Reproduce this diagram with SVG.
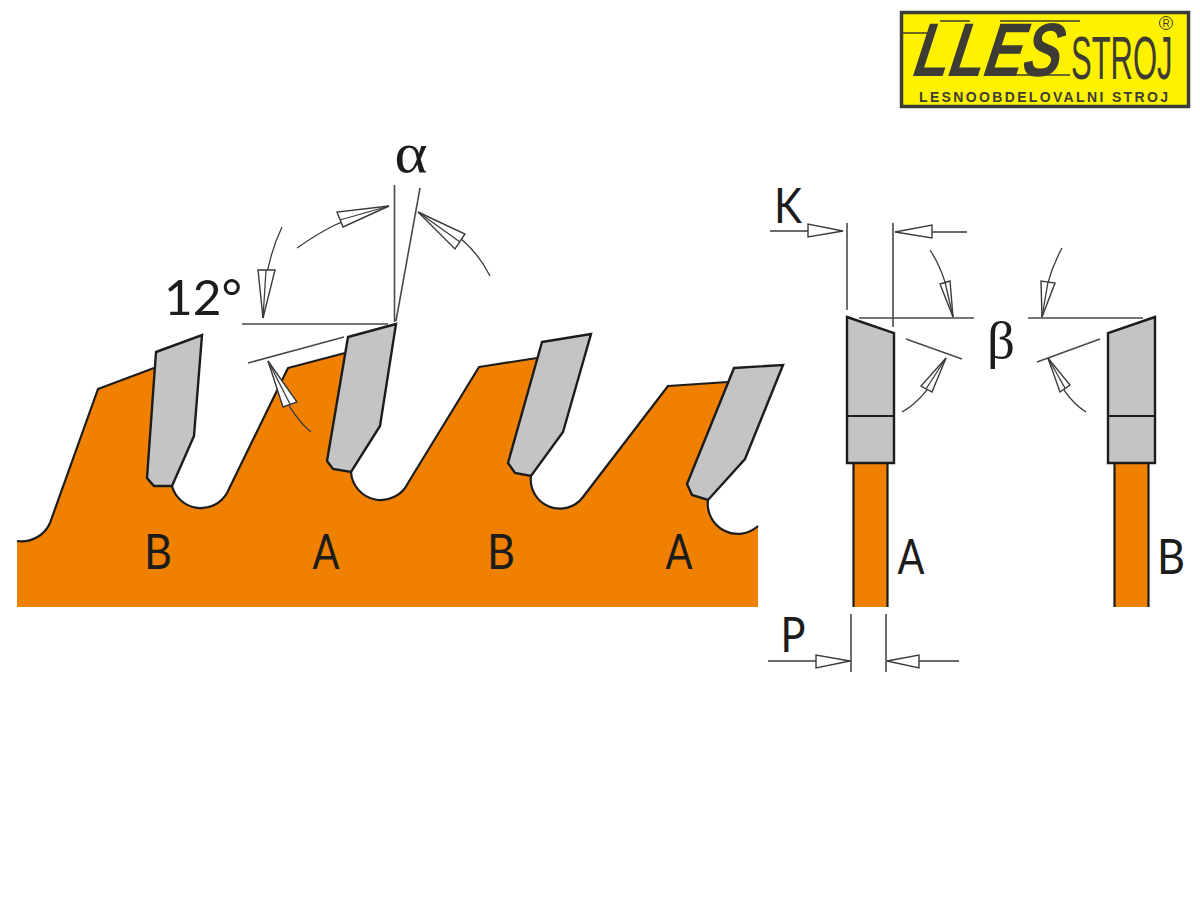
<svg xmlns="http://www.w3.org/2000/svg" width="1200" height="900" viewBox="0 0 1200 900">
<style>
.orange{fill:#f08000}
.edge{fill:none;stroke:#1c1c1c;stroke-width:2.2;stroke-linejoin:round}
.tip{fill:#c4c4c4;stroke:#1c1c1c;stroke-width:2.4;stroke-linejoin:miter}
.dim{fill:none;stroke:#4a4a4a;stroke-width:1.6}
.arrow{fill:#fff;stroke:#3a3a3a;stroke-width:1.4;stroke-linejoin:miter}
.core{fill:none;stroke:#3a3a3a;stroke-width:1.3}
.lab{font-family:"Lato","Liberation Sans",sans-serif;fill:#1c1c1c;font-size:49px;text-anchor:middle}
.greek{font-family:"Liberation Serif","DejaVu Serif",serif;fill:#1c1c1c;text-anchor:middle}
</style>
<g id="logo">
<rect x="901.5" y="12.5" width="287" height="94" fill="#fff200" stroke="#3c3c38" stroke-width="3.5"/>
<text transform="translate(912,76) skewX(-10) scale(.76,1)" font-family="Liberation Sans" font-weight="700" font-style="italic" font-size="76" fill="#3c3c34">LLES</text>
<path d="M903,33H934M940,21H970M1000,21H1080M992,75H1070" fill="none" stroke="#3c3c34" stroke-width="1.5"/>
<text transform="translate(1071,79) scale(.5,1)" font-family="Liberation Sans" font-size="62" fill="#3c3c34">STROJ</text>
<circle cx="1166" cy="23" r="6.5" fill="none" stroke="#3c3c34" stroke-width="1"/>
<text x="1166" y="27" font-family="Liberation Sans" font-size="10" text-anchor="middle" fill="#3c3c34">R</text>
<text x="919" y="102" font-family="Liberation Sans" font-weight="700" font-size="14" textLength="249" fill="#3c3c34">LESNOOBDELOVALNI STROJ</text>
</g>
<g id="blade">
<path class="orange" d="M17,541A31,31 0 0 0 50,523L98,389L154,368L172,486A30,30 0 0 0 227,493L288,368L345,353L351,472A30,30 0 0 0 408,483L479,367L537,358L531,476A29,29 0 0 0 583,497L668,386L728,382L708,500A30,30 0 0 0 758,526V607H17Z"/>
<path class="edge" d="M17,541A31,31 0 0 0 50,523L98,389L154,368M172,486A30,30 0 0 0 227,493L288,368L345,353M351,472A30,30 0 0 0 408,483L479,367L537,358M531,476A29,29 0 0 0 583,497L668,386L728,382M708,500A30,30 0 0 0 758,526"/>
</g>
<g id="tooth-b1"><polygon class="tip" points="156,352 202,335 194,436 172,486 154,486 147,478"/><text class="lab" x="158" y="569" textLength="28" lengthAdjust="spacingAndGlyphs">B</text></g>
<g id="tooth-a1"><polygon class="tip" points="348,337 396,324 380,426 351,472 333,469 327,461"/><text class="lab" x="326" y="569" textLength="27" lengthAdjust="spacingAndGlyphs">A</text></g>
<g id="tooth-b2"><polygon class="tip" points="542,342 591,334 563,432 531,476 515,473 508,463"/><text class="lab" x="501" y="569" textLength="28" lengthAdjust="spacingAndGlyphs">B</text></g>
<g id="tooth-a2"><polygon class="tip" points="734,368 783,365 745,459 708,500 692,495 687,484"/><text class="lab" x="679" y="569" textLength="27" lengthAdjust="spacingAndGlyphs">A</text></g>
<g id="section-a">
<rect x="853.5" y="463" width="34" height="144" class="orange"/>
<path class="edge" d="M853.5,463V607M887.5,463V607"/>
<polygon class="tip" points="847,317 894,333 894,463 847,463"/>
<path class="edge" d="M847,416H894"/>
<text class="lab" x="911" y="574" textLength="27" lengthAdjust="spacingAndGlyphs">A</text>
</g>
<g id="section-b">
<rect x="1114.5" y="463" width="34" height="144" class="orange"/>
<path class="edge" d="M1114.5,463V607M1148.5,463V607"/>
<polygon class="tip" points="1155,317 1108,333 1108,463 1155,463"/>
<path class="edge" d="M1108,416H1155"/>
<text class="lab" x="1171" y="574" textLength="28" lengthAdjust="spacingAndGlyphs">B</text>
</g>
<g id="connectors">
<path class="dim" d="M394.5,185V322M420,188L396,321M242,324H388M248,363L344,337"/>
<path class="core" d="M297,248C320,232 342,218 389,206M282,227C271,250 263,280 263,318M490,276C476,248 455,230 418,212M311,432C296,420 282,398 268,361"/>
<polygon class="arrow" points="389,206 337,212 343,227"/><path class="core" d="M340,220L389,206"/>
<polygon class="arrow" points="263,318 258,270 275,270"/><path class="core" d="M266,270L263,318"/>
<polygon class="arrow" points="418,212 465,234 455,249"/><path class="core" d="M460,242L418,212"/>
<polygon class="arrow" points="268,361 297,402 283,407"/><path class="core" d="M290,404L268,361"/>
<path class="dim" d="M847,223V310M893,223V327M859,318H974M1028,318H1143M906,339L962,359M1100,339L1037,362M851,614V672M886,614V672"/>
<path class="core" d="M770,231H843M895,232H967M768,661H850M887,661H959"/>
<polygon class="arrow" points="843,231 808,224 808,237"/>
<polygon class="arrow" points="895,232 932,225 932,238"/>
<polygon class="arrow" points="850,661 816,655 816,668"/>
<polygon class="arrow" points="887,661 919,655 919,668"/>
<path class="core" d="M930,250C942,268 949,290 953,317M1062,248C1050,270 1044,290 1042,317M902,412C920,402 935,382 946,358M1086,412C1070,402 1058,385 1048,358"/>
<polygon class="arrow" points="953,317 940,284 950,281"/><path class="core" d="M945,282L953,317"/>
<polygon class="arrow" points="1042,317 1041,281 1055,283"/><path class="core" d="M1048,282L1042,317"/>
<polygon class="arrow" points="946,358 921,386 932,392"/><path class="core" d="M926,389L946,358"/>
<polygon class="arrow" points="1048,358 1070,385 1060,392"/><path class="core" d="M1065,388L1048,358"/>
</g>
<g id="labels">
<text class="lab" x="203" y="315" textLength="78" lengthAdjust="spacingAndGlyphs">12°</text>
<text class="greek" x="411" y="172" font-size="56" textLength="33" lengthAdjust="spacingAndGlyphs">α</text>
<text class="greek" x="1001" y="358" font-size="52" textLength="28" lengthAdjust="spacingAndGlyphs">β</text>
<text class="lab" x="788" y="223" textLength="28" lengthAdjust="spacingAndGlyphs">K</text>
<text class="lab" x="793" y="652" textLength="25" lengthAdjust="spacingAndGlyphs">P</text>
</g>
</svg>
